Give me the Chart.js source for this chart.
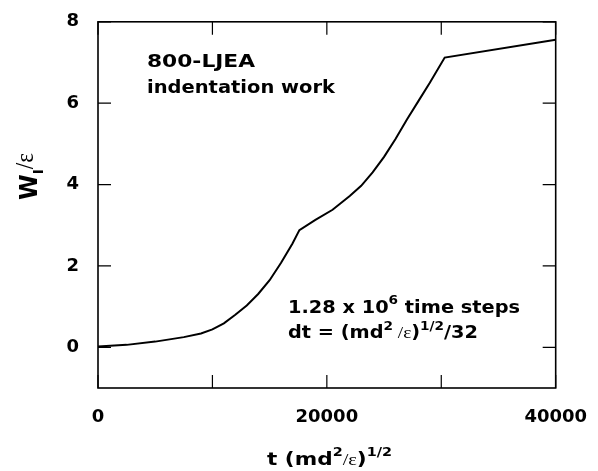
<!DOCTYPE html>
<html>
<head>
<meta charset="utf-8">
<script src="https://cdn.jsdelivr.net/npm/chart.js@4/dist/chart.umd.min.js"></script>
<style>
  html, body { margin: 0; padding: 0; background: #fff; }
</style>
</head>
<body>
<canvas id="grafico" width="598" height="471"></canvas>
<script>
// time in units of (md^2/eps)^1/2
var timeSteps = [0, 2500, 5000, 7500, 9000, 10000, 11000, 12000, 13000, 14000, 15000, 16000,
                 17000, 17600, 19000, 20500, 22000, 23000, 24000, 25000, 26000, 27000, 28000,
                 29000, 30300, 40000];
// indentation work W_I / eps
var workValues = [0.02, 0.06, 0.14, 0.25, 0.34, 0.44, 0.59, 0.80, 1.03, 1.31, 1.65, 2.08,
                  2.55, 2.88, 3.13, 3.38, 3.72, 3.97, 4.30, 4.68, 5.12, 5.60, 6.05,
                  6.50, 7.12, 7.56];

var xTickValues = [0, 10000, 20000, 30000, 40000];
var xTickLabels = [0, 20000, 40000];
var yTickValues = [0, 2, 4, 6, 8];

var BOLD = 'bold 17px "DejaVu Sans"';
var SMALL = 'bold 12px "DejaVu Sans"';
var SYMB = '17px "Liberation Serif"';

// draws a line of text made of runs (for super/subscripts), stretched to a given width
var drawRich = function(ctx, runs, x, y, width, angle, sy) {
    ctx.save();
    ctx.translate(x, y);
    if (angle) ctx.rotate(angle);
    var natural = 0;
    runs.forEach(function(r) { ctx.font = r.font; natural += ctx.measureText(r.text).width; });
    ctx.scale(width / natural, sy || 1);
    ctx.fillStyle = '#000';
    ctx.textAlign = 'left';
    ctx.textBaseline = 'alphabetic';
    var cx = 0;
    runs.forEach(function(r) {
        ctx.font = r.font;
        ctx.fillText(r.text, cx, r.dy || 0);
        cx += ctx.measureText(r.text).width;
    });
    ctx.restore();
};

var moldura = {
    id: 'moldura',
    afterDraw: function(chart) {
        var ctx = chart.ctx;
        var a = chart.chartArea;
        var sx = chart.scales.x, sy = chart.scales.y;
        var tick = 13;

        ctx.save();
        ctx.strokeStyle = '#000';
        ctx.lineWidth = 1.6;
        ctx.strokeRect(a.left, a.top, a.right - a.left, a.bottom - a.top);

        ctx.lineWidth = 1.2;
        ctx.beginPath();
        xTickValues.forEach(function(v) {
            var px = sx.getPixelForValue(v);
            ctx.moveTo(px, a.bottom); ctx.lineTo(px, a.bottom - tick);
            ctx.moveTo(px, a.top); ctx.lineTo(px, a.top + tick);
        });
        yTickValues.forEach(function(v) {
            var py = sy.getPixelForValue(v);
            ctx.moveTo(a.left, py); ctx.lineTo(a.left + tick, py);
            ctx.moveTo(a.right, py); ctx.lineTo(a.right - tick, py);
        });
        ctx.stroke();
        ctx.restore();

        drawRich(ctx, [{text: '800-LJEA', font: BOLD}], 147, 67, 108);
        drawRich(ctx, [{text: 'indentation work', font: BOLD}], 147, 93, 188);
        drawRich(ctx, [
            {text: '1.28 x 10', font: BOLD},
            {text: '6', font: SMALL, dy: -9},
            {text: ' time steps', font: BOLD}
        ], 288, 313, 232);
        drawRich(ctx, [
            {text: 'dt = (md', font: BOLD},
            {text: '2', font: SMALL, dy: -8},
            {text: ' /ε', font: SYMB},
            {text: ')', font: BOLD},
            {text: '1/2', font: SMALL, dy: -8},
            {text: '/32', font: BOLD}
        ], 288, 338, 190);

        // x axis title
        drawRich(ctx, [
            {text: 't (md', font: 'bold 18px "DejaVu Sans"'},
            {text: '2', font: SMALL, dy: -9},
            {text: '/ε', font: SYMB},
            {text: ')', font: 'bold 18px "DejaVu Sans"'},
            {text: '1/2', font: SMALL, dy: -9}
        ], 267, 465, 125);

        // y axis title (rotated)
        drawRich(ctx, [
            {text: 'W', font: 'bold 17px "DejaVu Sans"'},
            {text: 'I', font: 'bold 10px "DejaVu Sans"', dy: 4},
            {text: '/ε', font: SYMB, dy: -3}
        ], 37, 200, 47, -Math.PI / 2, 1.45);
    }
};

var grafico = new Chart(document.getElementById('grafico'), {
    type: 'line',
    data: {
        datasets: [{
            data: timeSteps.map(function(t, i) { return {x: t, y: workValues[i]}; }),
            borderColor: '#000',
            borderWidth: 2,
            pointRadius: 0,
            fill: false,
            tension: 0
        }]
    },
    options: {
        responsive: false,
        animation: false,
        layout: { padding: { top: 14, right: 42, left: 0, bottom: 0 } },
        plugins: { legend: { display: false }, tooltip: { enabled: false } },
        scales: {
            x: {
                type: 'linear',
                min: 0,
                max: 40000,
                afterBuildTicks: function(s) { s.ticks = xTickValues.map(function(v) { return {value: v}; }); },
                afterFit: function(s) { s.height = 83; },
                grid: { display: false },
                border: { display: false },
                ticks: {
                    autoSkip: false,
                    maxRotation: 0,
                    padding: 11,
                    color: '#000',
                    font: { family: 'DejaVu Sans', weight: 'bold', size: 18 },
                    callback: function(v) { return xTickLabels.indexOf(v) >= 0 ? String(v) : ''; }
                }
            },
            y: {
                min: -1,
                max: 8,
                afterBuildTicks: function(s) { s.ticks = yTickValues.map(function(v) { return {value: v}; }); },
                afterFit: function(s) { s.width = 98; },
                grid: { display: false },
                border: { display: false },
                ticks: {
                    padding: 11,
                    color: '#000',
                    font: { family: 'DejaVu Sans', weight: 'bold', size: 18 }
                }
            }
        }
    },
    plugins: [moldura]
});
</script>
</body>
</html>
